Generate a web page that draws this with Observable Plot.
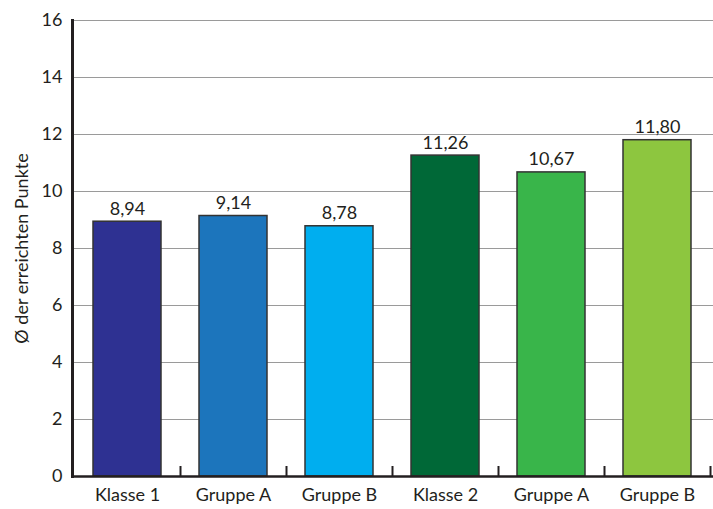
<!DOCTYPE html>
<html>
<head>
<meta charset="utf-8">
<script src="https://cdn.jsdelivr.net/npm/d3@7"></script>
<script src="https://cdn.jsdelivr.net/npm/@observablehq/plot@0.6"></script>
<style>
  html, body { margin: 0; padding: 0; background: #fff; }
  #chart svg { display: block; }
</style>
</head>
<body>
<div id="chart"></div>
<script>
// Average points per class and group
const keys = ["k1", "k1a", "k1b", "k2", "k2a", "k2b"];
const labels = ["Klasse 1", "Gruppe A", "Gruppe B", "Klasse 2", "Gruppe A", "Gruppe B"];
const values = [8.94, 9.14, 8.78, 11.26, 10.67, 11.80];
const colors = ["#2e3192", "#1c75bc", "#00aeef", "#006837", "#39b54a", "#8dc63f"];
const yTicks = [0, 2, 4, 6, 8, 10, 12, 14, 16];

const data = keys.map((k, i) => ({key: k, label: labels[i], value: values[i], color: colors[i]}));
const fmt = v => v.toFixed(2).replace(".", ",");

const chart = Plot.plot({
  width: 713,
  height: 509,
  marginLeft: 72,
  marginRight: 0,
  marginTop: 20,
  marginBottom: 33,
  style: {fontFamily: "Lato, 'Open Sans', sans-serif", fontSize: "18px", color: "#231f20", background: "#fff"},
  x: {domain: keys, paddingInner: 0.355, paddingOuter: 0.178},
  y: {domain: [0, 16]},
  marks: [
    Plot.gridY(yTicks, {stroke: "#9a9a9a", strokeOpacity: 1, strokeWidth: 1.2}),
    Plot.barY(data, {x: "key", y: "value", fill: "color", stroke: "#333", strokeWidth: 1.5}),
    Plot.text(data, {x: "key", y: "value", text: d => fmt(d.value), dy: -7, lineAnchor: "bottom", fontSize: 18, fill: "#231f20"}),
    // small separators between categories, standing on the baseline
    Plot.ruleX(keys, {
      x: d => d, y1: 0, y2: 0, stroke: "#231f20", strokeWidth: 2,
      render(index, scales, vals, dims, context, next) {
        const step = vals.x[1] - vals.x[0];
        return next(index, scales, {
          ...vals,
          x: vals.x.map(v => v + step / 2),
          y2: vals.y1.map(v => v - 10)
        }, dims, context);
      }
    }),
    Plot.ruleY([0], {stroke: "#231f20", strokeWidth: 2.5}),
    Plot.frame({anchor: "left", stroke: "#231f20", strokeWidth: 3}),
    Plot.axisY(yTicks, {tickSize: 0, tickPadding: 10, fontSize: 18, label: "Ø der erreichten Punkte", labelAnchor: "center", labelArrow: "none", labelOffset: 57}),
    Plot.axisX({tickSize: 0, tickPadding: 12, fontSize: 18, tickFormat: k => labels[keys.indexOf(k)], label: null})
  ]
});

document.getElementById("chart").appendChild(chart);
</script>
</body>
</html>
